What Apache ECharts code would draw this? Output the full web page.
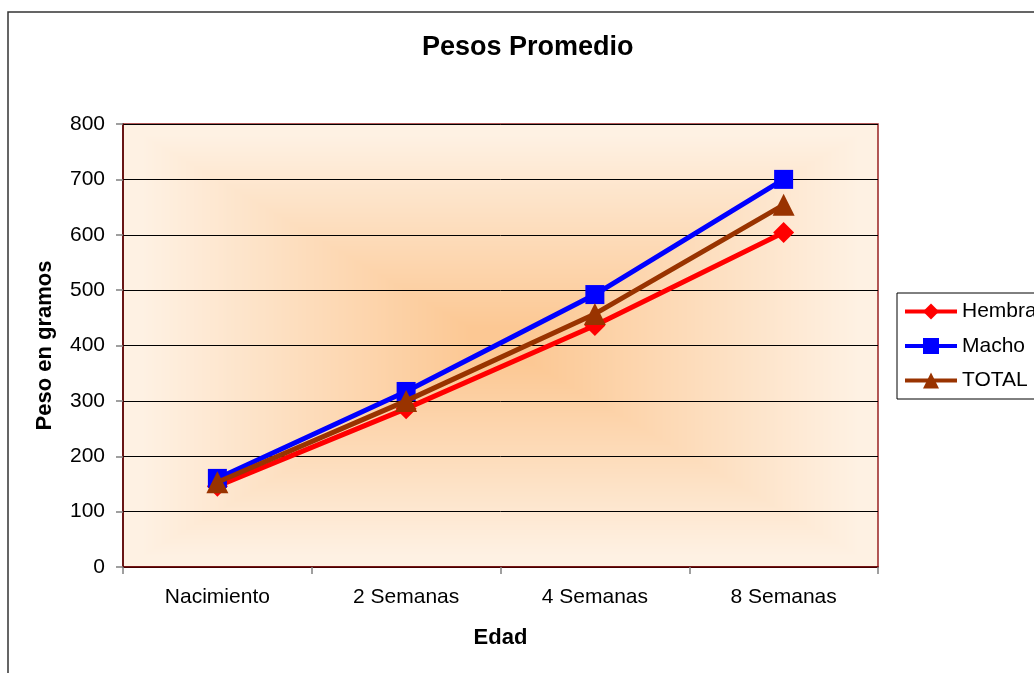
<!DOCTYPE html>
<html>
<head>
<meta charset="utf-8">
<script src="https://cdn.jsdelivr.net/npm/echarts@6/dist/echarts.min.js"></script>
<style>
html,body{margin:0;padding:0;background:#fff;}
#main{width:1034px;height:673px;}
</style>
</head>
<body>
<div id="main"></div>
<script>
// ---- data ----
const categories = ['Nacimiento', '2 Semanas', '4 Semanas', '8 Semanas'];
const hembra = [146, 286, 436, 604];
const macho = [160, 317, 492, 700];
const total = [153, 300, 457, 654];
const yTicks = [0, 100, 200, 300, 400, 500, 600, 700, 800];

// ---- layout constants ----
const GL = 123, GT = 124, GW = 755, GH = 443;
const FONT = 'Liberation Sans, Arial, sans-serif';

function makeBg(w, h) {
  const c = document.createElement('canvas');
  c.width = w; c.height = h;
  const ctx = c.getContext('2d');
  const img = ctx.createImageData(w, h);
  const cen = [252, 200, 148], edge = [254, 241, 227];
  for (let y = 0; y < h; y++) {
    for (let x = 0; x < w; x++) {
      const tx = Math.abs(x + 0.5 - w / 2) / (w / 2);
      const ty = Math.abs(y + 0.5 - h / 2) / (h / 2);
      const t = Math.max(tx, ty);
      const s = Math.min(1, Math.max(0, (t - 0.08) / 0.87));
      const i = (y * w + x) * 4;
      img.data[i] = cen[0] + (edge[0] - cen[0]) * s;
      img.data[i + 1] = cen[1] + (edge[1] - cen[1]) * s;
      img.data[i + 2] = cen[2] + (edge[2] - cen[2]) * s;
      img.data[i + 3] = 255;
    }
  }
  ctx.putImageData(img, 0, 0);
  return c;
}

const chart = echarts.init(document.getElementById('main'), null, {renderer: 'canvas'});
const option = {
  animation: false,
  backgroundColor: '#fff',
  textStyle: {fontFamily: FONT},
  title: {
    text: 'Pesos Promedio',
    left: 422, top: 34, padding: 0,
    textStyle: {fontSize: 27, fontWeight: 'bold', color: '#000', fontFamily: FONT}
  },
  graphic: [
    {type: 'rect', z: -20, silent: true, shape: {x: 8, y: 12, width: 1200, height: 800},
     style: {fill: 'none', stroke: '#333', lineWidth: 1.5}},
    {type: 'image', z: -10, silent: true,
     style: {image: makeBg(GW, GH), x: GL, y: GT, width: GW, height: GH}}
  ],
  legend: {
    orient: 'vertical',
    left: 897, top: 293,
    padding: [8, 6, 8, 6],
    itemGap: 13.5,
    itemWidth: 52, itemHeight: 20,
    backgroundColor: '#fff',
    borderColor: '#000', borderWidth: 1,
    lineStyle: {width: 4},
    textStyle: {fontSize: 21, color: '#000', fontFamily: FONT},
    data: ['Hembra', 'Macho', 'TOTAL']
  },
  grid: {
    left: GL, top: GT, width: GW, height: GH,
    show: true, backgroundColor: 'transparent',
    borderColor: '#992222', borderWidth: 1.5
  },
  xAxis: {
    type: 'category',
    data: categories,
    boundaryGap: true,
    name: 'Edad', nameLocation: 'middle', nameGap: 60,
    nameTextStyle: {fontSize: 22, fontWeight: 'bold', color: '#000', fontFamily: FONT},
    axisLine: {lineStyle: {color: '#600000', width: 1.5}},
    axisTick: {show: true, length: 7, lineStyle: {color: '#808080', width: 1.5}},
    axisLabel: {fontSize: 21, color: '#000', margin: 20, fontFamily: FONT},
    splitLine: {show: false}
  },
  yAxis: {
    type: 'value',
    min: yTicks[0], max: yTicks[yTicks.length - 1], interval: 100,
    name: 'Peso en gramos', nameLocation: 'middle', nameGap: 67,
    nameTextStyle: {fontSize: 22, fontWeight: 'bold', color: '#000', fontFamily: FONT},
    axisLine: {show: true, lineStyle: {color: '#500000', width: 1.5}},
    axisTick: {show: true, length: 7, lineStyle: {color: '#808080', width: 1.5}},
    axisLabel: {fontSize: 21, color: '#000', margin: 18, fontFamily: FONT},
    splitLine: {show: true, lineStyle: {color: '#000', width: 1}}
  },
  series: [
    {name: 'Hembra', type: 'line', data: hembra, symbol: 'diamond', symbolSize: 21,
     lineStyle: {color: '#ff0000', width: 5}, itemStyle: {color: '#ff0000'}, z: 3},
    {name: 'Macho', type: 'line', data: macho, symbol: 'rect', symbolSize: 19,
     lineStyle: {color: '#0000ff', width: 5}, itemStyle: {color: '#0000ff'}, z: 3},
    {name: 'TOTAL', type: 'line', data: total, symbol: 'triangle', symbolSize: 22,
     lineStyle: {color: '#993300', width: 5}, itemStyle: {color: '#993300'}, z: 4}
  ]
};
chart.setOption(option);
</script>
</body>
</html>
